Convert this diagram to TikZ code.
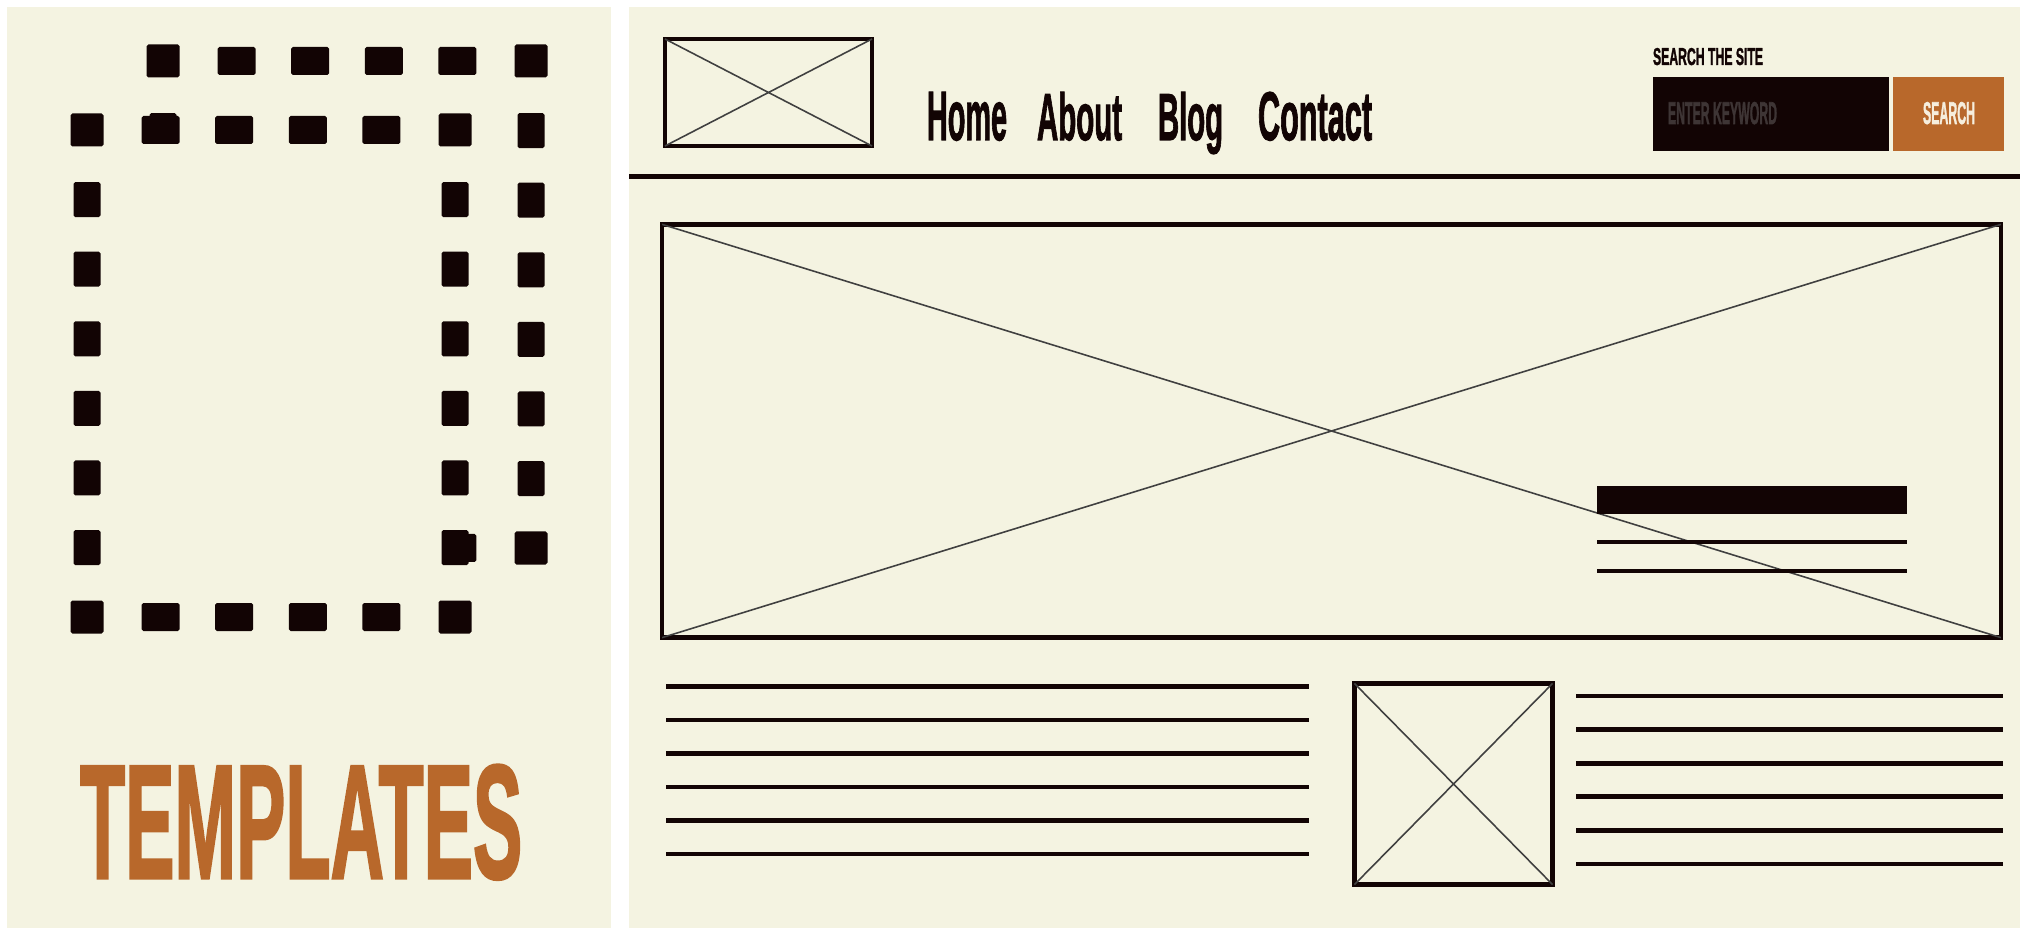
\documentclass[tikz,border=0pt]{standalone}
\usepackage{fontspec}
\usepackage{graphicx}
\newfontfamily\gothic{Liberation Sans Bold}[FakeBold=2]
\definecolor{paper}{HTML}{F4F3E1}
\definecolor{ink}{HTML}{120404}
\definecolor{rust}{HTML}{B8682B}
\definecolor{ghost}{HTML}{3E3535}
\definecolor{cream}{HTML}{F6EEDD}
\newcommand{\gothtext}[3]{\resizebox{#1}{#2}{\gothic #3}}
\tikzset{
  frame/.style={draw=ink, line width=1.35pt, fill=paper, inner sep=0pt, outer sep=0pt},
  cross/.style={draw=black!75, line width=0.45pt},
  textline/.style={draw=ink, line width=1.4pt},
  word/.style={anchor=base west, inner sep=0pt, outer sep=0pt},
  dot/.style={fill=ink, rounded corners=0.5pt},
}
\begin{document}
\begin{tikzpicture}[x=0.01cm, y=-0.01cm]
    \useasboundingbox (0,0) rectangle (2030,940);
    \fill[white] (0,0) rectangle (2030,940);
    \fill[paper] (7,7) rectangle (611,928);
    \fill[paper] (629,7) rectangle (2020,928);

    % two dashed cards, back one first
    \foreach \ox/\oy in {163/61, 87/130} {
        \fill[paper] (\ox,\oy) rectangle ++(368,487);
        \foreach \i in {1,...,4} {
            \fill[dot] (\ox+\i*73.6-19, \oy-14) rectangle ++(38,28);
            \fill[dot] (\ox+\i*73.6-19, \oy+487-14) rectangle ++(38,28);
        }
        \foreach \j in {1,...,6} {
            \fill[dot] (\ox-13.5, \oy+\j*69.6-17.5) rectangle ++(27,35);
            \fill[dot] (\ox+368-13.5, \oy+\j*69.6-17.5) rectangle ++(27,35);
        }
        \foreach \cx/\cy in {0/0, 368/0, 0/487, 368/487}
            \fill[dot] (\ox+\cx-16.5, \oy+\cy-16.5) rectangle ++(33,33);
    }
    \node[word, text=rust] (templates) at (80,878) {\gothtext{4.42cm}{1.13cm}{TEMPLATES}};

    % header
    \node[frame, line width=1.25pt, minimum width=2.07cm, minimum height=1.07cm] (logo) at (768.5,92.5) {};
    \draw[cross] (logo.north west) -- (logo.south east) (logo.south west) -- (logo.north east);
    \node[word, text=ink] (home) at (927,140) {\gothtext{0.80cm}{0.48cm}{Home}};
    \node[word, text=ink] (about) at (1037,140) {\gothtext{0.85cm}{0.48cm}{About}};
    \node[word, text=ink] (blog) at (1158,140) {\gothtext{0.65cm}{0.48cm}{Blog}};
    \node[word, text=ink] (contact) at (1258,140) {\gothtext{1.14cm}{0.48cm}{Contact}};

    \node[word, text=ink] (searchsite) at (1653,65) {\gothtext{1.10cm}{0.17cm}{SEARCH THE SITE}};
    \node[fill=ink, inner sep=0pt, minimum width=2.36cm, minimum height=0.74cm] (keyword) at (1771,114) {};
    \node[fill=rust, inner sep=0pt, minimum width=1.11cm, minimum height=0.74cm] (button) at (1948.5,114) {};
    \node[word, text=ghost] (hint) at (1668,124) {\gothtext{1.09cm}{0.22cm}{ENTER KEYWORD}};
    \node[word, text=cream] (go) at (1923,124) {\gothtext{0.52cm}{0.22cm}{SEARCH}};

    \draw[ink, line width=1.45pt] (629,176.5) -- (2020,176.5);

    % hero
    \node[frame, minimum width=13.38cm, minimum height=4.13cm] (hero) at (1331.5,431) {};
    \draw[cross] (hero.north west) -- (hero.south east) (hero.south west) -- (hero.north east);
    \fill[ink] (1597,486) rectangle (1907,514);
    \draw[ink, line width=1.15pt] (1597,542) -- (1907,542);
    \draw[ink, line width=1.15pt] (1597,571) -- (1907,571);

    % lower row
    \foreach \k in {0,...,5}
        \draw[textline] (666,686.5+\k*33.5) -- (1309,686.5+\k*33.5);
    \node[frame, minimum width=1.98cm, minimum height=2.01cm] (thumb) at (1453.5,784) {};
    \draw[cross] (thumb.north west) -- (thumb.south east) (thumb.south west) -- (thumb.north east);
    \foreach \k in {0,...,5}
        \draw[textline] (1576,696+\k*33.6) -- (2003,696+\k*33.6);
\end{tikzpicture}
\end{document}
